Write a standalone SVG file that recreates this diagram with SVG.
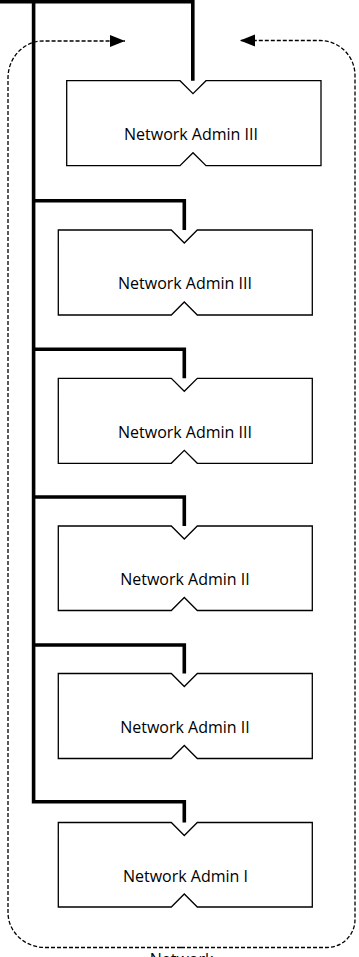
<svg xmlns="http://www.w3.org/2000/svg" width="359" height="957" viewBox="0 0 359 957">
<style>
.node{fill:#fff;stroke:#000;stroke-width:1.3}
.lbl{font-family:"Open Sans","Noto Sans",sans-serif;font-size:16px;fill:#000;text-anchor:middle}
.conn{fill:none;stroke:#000;stroke-width:3.6;stroke-linejoin:miter}
.dash{fill:none;stroke:#000;stroke-width:1.3;stroke-dasharray:4 2}
</style>
<defs>
<marker id="ah" markerUnits="userSpaceOnUse" markerWidth="16" markerHeight="13" refX="15" refY="6" orient="auto">
<path d="M0,0 L15,6 L0,12 z" fill="#000"/>
</marker>
</defs>
<rect width="359" height="957" fill="#fff"/>
<g id="group">
<path class="dash" d="M181,947.5 H45 A37,35 0 0 1 8,912.5 V78 A35,37 0 0 1 43,41 H125" marker-end="url(#ah)"/>
<path class="dash" d="M181,947.5 H327 A28,28 0 0 0 355,919.5 V75 A35,35 0 0 0 320,40.5 H240" marker-end="url(#ah)"/>
<text class="lbl" x="181.5" y="965">Network</text>
</g>
<g id="connectors">
<path class="conn" d="M0,1.8 H192.8 V80.7"/>
<path class="conn" d="M33.6,0 V801.7 H184.3 V822.5"/>
<path class="conn" d="M33.6,200.8 H184.3 V230"/>
<path class="conn" d="M33.6,349.3 H184.3 V378.3"/>
<path class="conn" d="M33.6,497 H184.3 V526"/>
<path class="conn" d="M33.6,645 H184.3 V673.5"/>
</g>
<g id="node1">
<path class="node" d="M66.7,80.7 H180 L193,93.7 L206,80.7 H321 V165.7 H206 L193,152.7 L180,165.7 H66.7 Z"/>
<text class="lbl" x="191" y="140">Network Admin III</text>
</g>
<g id="node2">
<path class="node" d="M58.3,230 H171.3 L184.3,243 L197.3,230 H312.3 V315 H197.3 L184.3,302 L171.3,315 H58.3 Z"/>
<text class="lbl" x="185" y="289.3">Network Admin III</text>
</g>
<g id="node3">
<path class="node" d="M58.3,378.3 H171.3 L184.3,391.3 L197.3,378.3 H312.3 V463.3 H197.3 L184.3,450.3 L171.3,463.3 H58.3 Z"/>
<text class="lbl" x="185" y="438">Network Admin III</text>
</g>
<g id="node4">
<path class="node" d="M58.3,526 H171.3 L184.3,539 L197.3,526 H312.3 V610.5 H197.3 L184.3,597.5 L171.3,610.5 H58.3 Z"/>
<text class="lbl" x="185" y="585.3">Network Admin II</text>
</g>
<g id="node5">
<path class="node" d="M58.3,673.5 H171.3 L184.3,686.5 L197.3,673.5 H312.3 V758.5 H197.3 L184.3,745.5 L171.3,758.5 H58.3 Z"/>
<text class="lbl" x="185" y="733">Network Admin II</text>
</g>
<g id="node6">
<path class="node" d="M58.3,822.5 H171.3 L184.3,835.5 L197.3,822.5 H312.3 V907 H197.3 L184.3,894 L171.3,907 H58.3 Z"/>
<text class="lbl" x="185.5" y="881.7">Network Admin I</text>
</g>
</svg>
